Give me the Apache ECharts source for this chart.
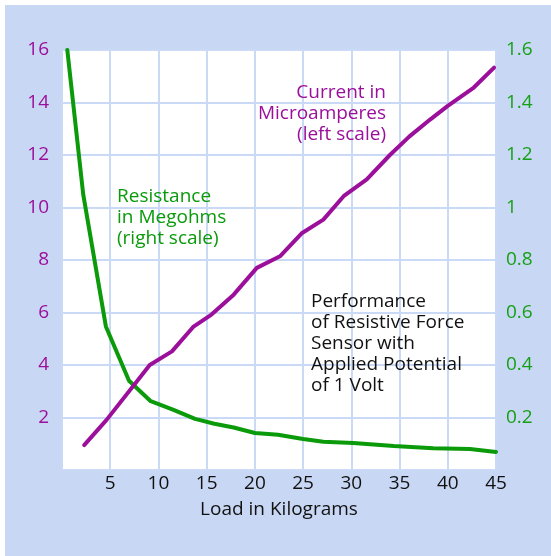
<!DOCTYPE html>
<html>
<head>
<meta charset="utf-8">
<script src="https://cdn.jsdelivr.net/npm/echarts@6/dist/echarts.min.js"></script>
<style>
  html, body { margin: 0; padding: 0; background: #fff; }
  #chart { width: 551px; height: 556px; }
</style>
</head>
<body>
<div id="chart"></div>
<script>
// load (kg) and current (microamperes), left scale
var currentLoad = [2.3, 4.6, 9.1, 11.4, 13.6, 15.5, 17.8, 20.2, 22.6, 24.9, 27.1, 29.2, 31.6, 34.0, 36.0, 38.2, 40.0, 42.7, 44.8];
var currentValues = [0.95, 1.9, 4.0, 4.52, 5.45, 5.92, 6.68, 7.7, 8.14, 9.03, 9.54, 10.43, 11.07, 12.0, 12.7, 13.36, 13.87, 14.57, 15.33];

// load (kg) and resistance (megohms), right scale
var resistLoad = [0.55, 2.2, 4.55, 6.95, 9.2, 11.5, 13.8, 15.8, 17.8, 20.0, 22.4, 25.0, 27.1, 30.2, 34.4, 38.5, 42.3, 45];
var resistValues = [1.6, 1.05, 0.547, 0.34, 0.262, 0.23, 0.195, 0.176, 0.162, 0.141, 0.134, 0.118, 0.108, 0.103, 0.091, 0.083, 0.080, 0.069];

var xTicks = [5, 10, 15, 20, 25, 30, 35, 40, 45];

var currentNote = ['Current in', 'Microamperes', '(left scale)'];
var resistNote = ['Resistance', 'in Megohms', '(right scale)'];
var titleNote = ['Performance', 'of Resistive Force', 'Sensor with', 'Applied Potential', 'of 1 Volt'];

var FONT = '"Open Sans", sans-serif';
var PURPLE = '#9b0f9b';
var GREEN = '#0a9a0a';
var LABEL_GREEN = '#16a016';
var GRID = '#cad9f5';

function pairs(xs, ys) {
  return xs.map(function (x, i) { return [x, ys[i]]; });
}

function noteLines(lines, x, y0, color, align) {
  return lines.map(function (t, i) {
    return {
      type: 'text',
      z: 100,
      x: x,
      y: y0 + i * 21,
      style: {
        text: t,
        font: '19px ' + FONT,
        fill: color,
        textAlign: align,
        textVerticalAlign: 'middle'
      }
    };
  });
}

var chart = echarts.init(document.getElementById('chart'));

var option = {
  backgroundColor: '#c8d7f4',
  animation: false,
  grid: {
    left: 62, right: 55, top: 50, bottom: 86,
    show: true,
    backgroundColor: '#ffffff',
    borderWidth: 0
  },
  xAxis: {
    type: 'value',
    min: 0, max: 45, interval: 5,
    name: 'Load in Kilograms',
    nameLocation: 'middle',
    nameGap: 30,
    nameTextStyle: { color: '#111', fontSize: 19, fontFamily: FONT },
    axisLine: { show: false },
    axisTick: { show: false },
    axisLabel: {
      color: '#111', fontSize: 19, fontFamily: FONT, margin: 4,
      formatter: function (v) { return xTicks.indexOf(v) >= 0 ? String(v) : ''; }
    },
    splitLine: { lineStyle: { color: GRID, width: 2 } }
  },
  yAxis: [{
    type: 'value',
    min: 0, max: 16, interval: 2,
    axisLine: { show: false },
    axisTick: { show: false },
    axisLabel: {
      color: PURPLE, fontSize: 19, fontFamily: FONT, margin: 13,
      formatter: function (v) { return v === 0 ? '' : String(v); }
    },
    splitLine: { lineStyle: { color: GRID, width: 2 } }
  }, {
    type: 'value',
    min: 0, max: 1.6, interval: 0.2,
    position: 'right',
    axisLine: { show: false },
    axisTick: { show: false },
    axisLabel: {
      color: LABEL_GREEN, fontSize: 19, fontFamily: FONT, margin: 10,
      formatter: function (v) { return v === 0 ? '' : String(+v.toFixed(1)); }
    },
    splitLine: { show: false }
  }],
  series: [{
    name: 'Resistance',
    type: 'line',
    yAxisIndex: 1,
    data: pairs(resistLoad, resistValues),
    showSymbol: false,
    lineStyle: { color: GREEN, width: 4, cap: 'round', join: 'round' }
  }, {
    name: 'Current',
    type: 'line',
    yAxisIndex: 0,
    data: pairs(currentLoad, currentValues),
    showSymbol: false,
    lineStyle: { color: PURPLE, width: 4, cap: 'round', join: 'round' }
  }],
  graphic: [
    { type: 'rect', z: 100, shape: { x: 0, y: 0, width: 5, height: 556 }, style: { fill: '#fff' }, silent: true },
    { type: 'rect', z: 100, shape: { x: 0, y: 0, width: 551, height: 5 }, style: { fill: '#fff' }, silent: true }
  ]
    .concat(noteLines(currentNote, 386, 93, PURPLE, 'right'))
    .concat(noteLines(resistNote, 117, 197, GREEN, 'left'))
    .concat(noteLines(titleNote, 311, 302, '#111', 'left'))
};

chart.setOption(option);
</script>
</body>
</html>
